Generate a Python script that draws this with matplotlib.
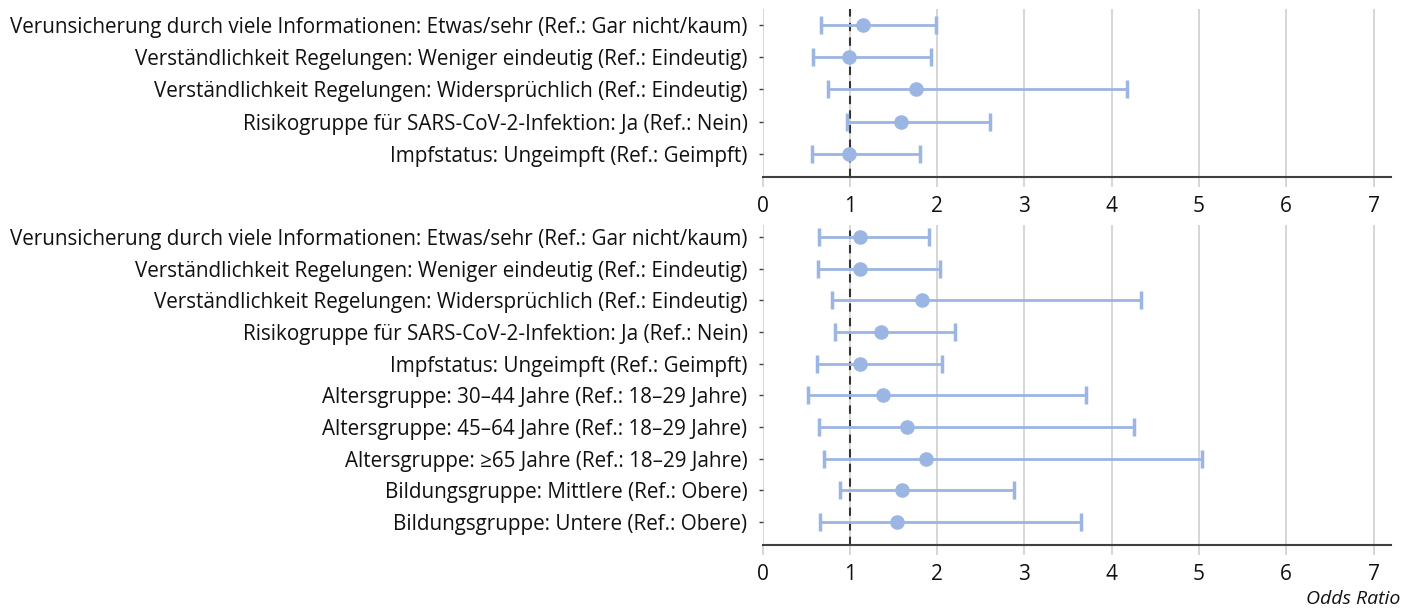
import matplotlib.pyplot as plt

plt.rcParams['font.family'] = ['Open Sans', 'DejaVu Sans']

labels_top = [
    "Verunsicherung durch viele Informationen: Etwas/sehr (Ref.: Gar nicht/kaum)",
    "Verständlichkeit Regelungen: Weniger eindeutig (Ref.: Eindeutig)",
    "Verständlichkeit Regelungen: Widersprüchlich (Ref.: Eindeutig)",
    "Risikogruppe für SARS-CoV-2-Infektion: Ja (Ref.: Nein)",
    "Impfstatus: Ungeimpft (Ref.: Geimpft)",
]
or_top = [1.15, 0.99, 1.76, 1.58, 0.99]
lo_top = [0.67, 0.58, 0.75, 0.97, 0.57]
hi_top = [1.99, 1.93, 4.18, 2.60, 1.80]

labels_bottom = labels_top + [
    "Altersgruppe: 30\u201344 Jahre (Ref.: 18\u201329 Jahre)",
    "Altersgruppe: 45\u201364 Jahre (Ref.: 18\u201329 Jahre)",
    "Altersgruppe: \u226565 Jahre (Ref.: 18\u201329 Jahre)",
    "Bildungsgruppe: Mittlere (Ref.: Obere)",
    "Bildungsgruppe: Untere (Ref.: Obere)",
]
or_bottom = [1.11, 1.11, 1.83, 1.35, 1.11, 1.38, 1.65, 1.87, 1.60, 1.54]
lo_bottom = [0.65, 0.63, 0.79, 0.83, 0.62, 0.52, 0.64, 0.70, 0.89, 0.66]
hi_bottom = [1.91, 2.03, 4.34, 2.20, 2.05, 3.70, 4.25, 5.04, 2.88, 3.65]

xticks = [0, 1, 2, 3, 4, 5, 6, 7]

BLUE = '#9bb6e2'
GRID = '#d0d0d0'
DARK = '#404040'


def forest(ax, labels, ors, los, his, ylim):
    n = len(labels)
    ys = list(range(n))
    xerr = [[o - l for o, l in zip(ors, los)], [h - o for o, h in zip(ors, his)]]
    ax.errorbar(ors, ys, xerr=xerr, fmt='o', color=BLUE, ecolor=BLUE,
                markersize=9.5, elinewidth=2, capsize=6.5, capthick=2.5, zorder=3)
    ax.axvline(1, color='#333333', ls=(0, (4, 3)), lw=1.5, zorder=2)
    ax.set_xlim(0, 7.2)
    ax.set_ylim(*ylim)
    ax.set_yticks(ys)
    ax.set_yticklabels(labels, fontsize=14.9, color='#111111')
    ax.set_xticks(xticks)
    ax.set_xticklabels([str(t) for t in xticks], fontsize=15, color='#111111')
    ax.grid(True, axis='x', color=GRID, lw=1.2, zorder=0)
    for s in ['top', 'right', 'left']:
        ax.spines[s].set_visible(False)
    ax.spines['bottom'].set_color(DARK)
    ax.spines['bottom'].set_linewidth(1.5)
    ax.tick_params(axis='y', length=3, width=1, color=DARK, pad=8)
    ax.tick_params(axis='x', length=7, width=1.2, color=GRID, pad=6.5)


fig = plt.figure(figsize=(14.07, 6.08), dpi=100)
ax1 = fig.add_axes([0.5421, 0.7089, 0.4465, 0.2763])
ax2 = fig.add_axes([0.5421, 0.1036, 0.4465, 0.5263])

forest(ax1, labels_top, or_top, lo_top, hi_top, (4.72, -0.49))
forest(ax2, labels_bottom, or_bottom, lo_bottom, hi_bottom, (9.73, -0.38))

fig.text(0.995, 0.006, "Odds Ratio", ha='right', va='baseline', fontsize=14,
         style='italic', color='#111111')

fig.savefig("out.png", dpi=100)
plt.close(fig)
